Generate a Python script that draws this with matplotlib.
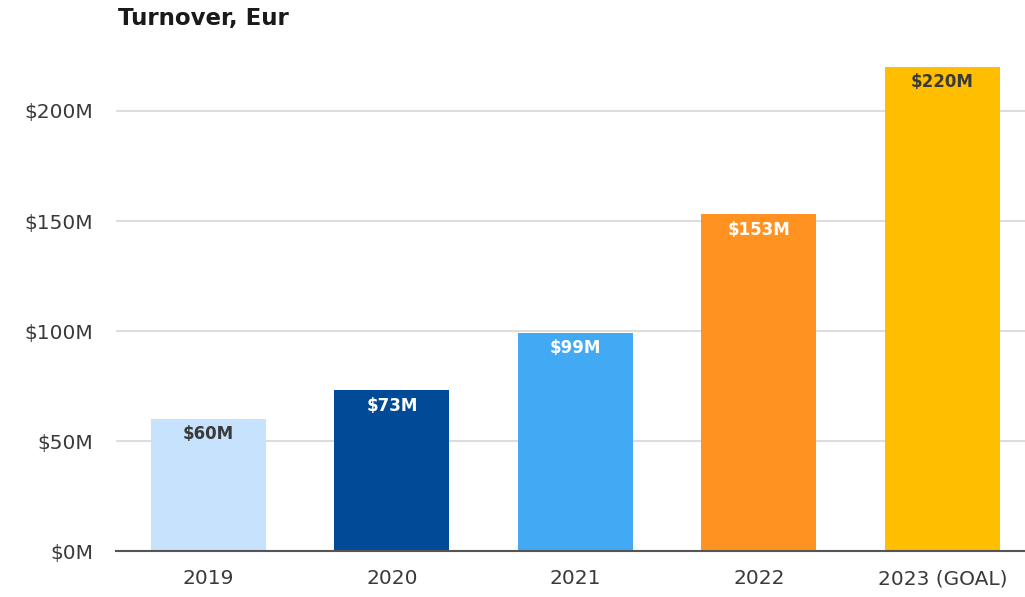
import matplotlib.pyplot as plt

# Dane
years = ['2019', '2020', '2021', '2022', '2023 (GOAL)']
turnover = [60, 73, 99, 153, 220]
bar_colors = ['#C6E2FD', '#004A97', '#42A9F5', '#FF9220', '#FFBF00']
label_colors = ['#3a3a3a', 'white', 'white', 'white', '#3a3a3a']
yticks = [0, 50, 100, 150, 200]

fig = plt.figure(figsize=(10.25, 5.97), dpi=100)
ax = fig.add_axes([116 / 1025, 46 / 597, 1 - 116 / 1025, 506 / 597])

x = range(len(years))
ax.bar(x, turnover, width=0.627, color=bar_colors, zorder=3)

# Etykiety na slupkach
for i, v in enumerate(turnover):
    ax.annotate(f'${v}M', (i, v), xytext=(0, -11), textcoords='offset points',
                ha='center', va='center', fontsize=12, fontweight='bold',
                color=label_colors[i], zorder=4)

ax.set_xlim(-0.504, 4.45)
ax.set_ylim(0, 230)
ax.set_xticks(list(x))
ax.set_xticklabels(years)
ax.set_yticks(yticks)
ax.set_yticklabels([f'${t}M' for t in yticks])
ax.tick_params(axis='y', length=0, pad=16.5, labelsize=14.5, labelcolor='#3a3a3a')
ax.tick_params(axis='x', length=0, pad=13, labelsize=14.5, labelcolor='#3a3a3a')

ax.grid(axis='y', color='#dddddd', linewidth=1.5, zorder=0)
for s in ['top', 'right', 'left']:
    ax.spines[s].set_visible(False)
ax.spines['bottom'].set_color('#555555')
ax.spines['bottom'].set_linewidth(1.5)
ax.spines['bottom'].set_zorder(5)

fig.text(118 / 1025, 1 - 19 / 597, 'Turnover, Eur', ha='left', va='center',
         fontsize=16.5, fontweight='bold', color='#1a1a1a')

fig.savefig('out.png', dpi=100)
